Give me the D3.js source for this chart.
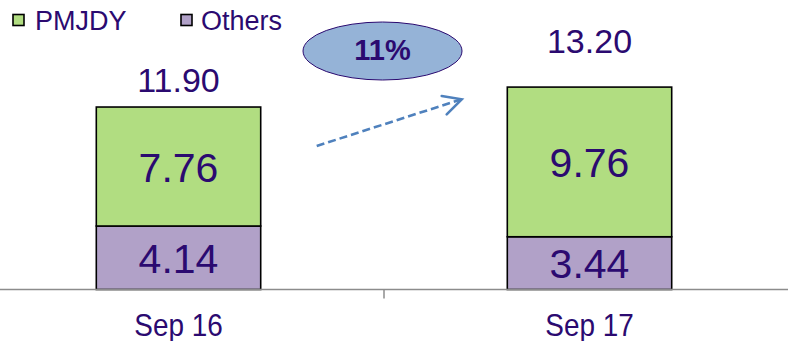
<!DOCTYPE html>
<html>
<head>
<meta charset="utf-8">
<script src="https://cdn.jsdelivr.net/npm/d3@7/dist/d3.min.js"></script>
<style>
  html, body { margin: 0; padding: 0; background: #fff; }
  svg { display: block; font-family: Arial, "Liberation Sans", sans-serif; }
</style>
</head>
<body>
<svg id="chart" width="788" height="341"></svg>
<script>
// Accounts (crore) by quarter
const categories = ["Sep 16", "Sep 17"];
const pmjdy = [7.76, 9.76];
const others = [4.14, 3.44];
const totals = [11.90, 13.20];
const growthLabel = "11%";
const seriesNames = ["PMJDY", "Others"];

const colors = { PMJDY: "#b1dd81", Others: "#b1a1c8" };
const textColor = "#2b0a70";

const svg = d3.select("#chart");
const baseline = 289.5;

const x = d3.scaleBand()
  .domain(categories)
  .range([-27, 795])
  .paddingInner(0.6)
  .paddingOuter(0.3);

const y = d3.scaleLinear()
  .domain([0, 18.88])
  .range([baseline, 0]);

const rows = categories.map((c, i) => ({
  cat: c,
  segs: [
    { key: "Others", y0: 0, y1: others[i], v: others[i] },
    { key: "PMJDY", y0: others[i], y1: others[i] + pmjdy[i], v: pmjdy[i] }
  ],
  total: totals[i]
}));

// stacked bars with value labels
const g = svg.append("g");
rows.forEach(r => {
  r.segs.forEach(s => {
    g.append("rect")
      .attr("x", x(r.cat))
      .attr("y", y(s.y1))
      .attr("width", x.bandwidth())
      .attr("height", y(s.y0) - y(s.y1))
      .attr("fill", colors[s.key])
      .attr("stroke", "#000")
      .attr("stroke-width", 1.6);
    g.append("text")
      .attr("x", x(r.cat) + x.bandwidth() / 2)
      .attr("y", (y(s.y0) + y(s.y1)) / 2 + 15)
      .attr("text-anchor", "middle")
      .attr("font-size", 41)
      .attr("fill", textColor)
      .text(s.v.toFixed(2));
  });
});

// totals above the bars
const totalLift = [15, 34];
rows.forEach((r, i) => {
  svg.append("text")
    .attr("x", x(r.cat) + x.bandwidth() / 2)
    .attr("y", y(r.total) - totalLift[i])
    .attr("text-anchor", "middle")
    .attr("font-size", 34)
    .attr("fill", textColor)
    .text(r.total.toFixed(2));
});

// category axis
const axis = svg.append("g").attr("transform", `translate(0,${baseline})`);
axis.append("line")
  .attr("x1", 0).attr("x2", 788)
  .attr("stroke", "#8c8c8c").attr("stroke-width", 1.5);
const mid = (x(categories[0]) + x(categories[1]) + x.bandwidth()) / 2;
axis.append("line")
  .attr("x1", mid).attr("x2", mid)
  .attr("y1", 0).attr("y2", 9)
  .attr("stroke", "#8c8c8c").attr("stroke-width", 1.5);
categories.forEach(c => {
  const cx = x(c) + x.bandwidth() / 2;
  axis.append("text")
    .attr("transform", `translate(${cx},46) scale(0.9,1)`)
    .attr("text-anchor", "middle")
    .attr("font-size", 31)
    .attr("fill", textColor)
    .text(c);
});

// legend
const legendPos = [{ sx: 13, tx: 35 }, { sx: 181, tx: 201 }];
seriesNames.forEach((n, i) => {
  svg.append("rect")
    .attr("x", legendPos[i].sx).attr("y", 14.5)
    .attr("width", 11).attr("height", 11)
    .attr("fill", colors[n])
    .attr("stroke", "#000").attr("stroke-width", 1.6);
  svg.append("text")
    .attr("x", legendPos[i].tx).attr("y", 29.5)
    .attr("font-size", 27)
    .attr("fill", textColor)
    .text(n);
});

// growth bubble
svg.append("ellipse")
  .attr("cx", 382.5).attr("cy", 51)
  .attr("rx", 79.5).attr("ry", 29)
  .attr("fill", "#95b3d7")
  .attr("stroke", "#2b0a70").attr("stroke-width", 1);
svg.append("text")
  .attr("x", 382.5).attr("y", 60)
  .attr("text-anchor", "middle")
  .attr("font-size", 29)
  .attr("font-weight", "bold")
  .attr("fill", textColor)
  .text(growthLabel);

// dashed growth arrow
const arrowColor = "#4f81bd";
svg.append("line")
  .attr("x1", 316.7).attr("y1", 146)
  .attr("x2", 460).attr("y2", 99.8)
  .attr("stroke", arrowColor).attr("stroke-width", 2.6)
  .attr("stroke-dasharray", "8,4");
svg.append("path")
  .attr("d", "M441.7,96 L461.7,99.3 L446.7,114.3")
  .attr("fill", "none")
  .attr("stroke", arrowColor).attr("stroke-width", 2.6)
  .attr("stroke-linecap", "round")
  .attr("stroke-linejoin", "miter");
</script>
</body>
</html>
